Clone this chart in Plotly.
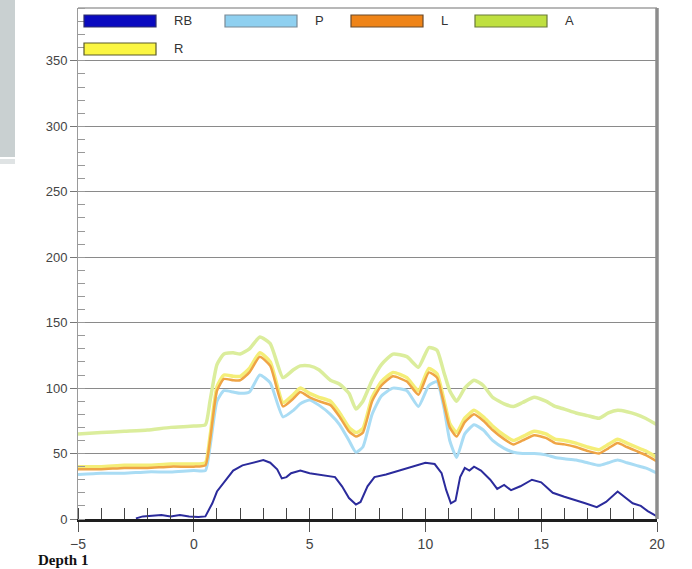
import plotly.graph_objects as go

# ---- data ----
rb_x = [-2.5, -2.2, -1.8, -1.4, -1.0, -0.6, -0.2, 0.2, 0.5, 0.8, 1.0, 1.4, 1.7, 2.1, 2.5, 3.0, 3.3, 3.6, 3.8, 4.0,
        4.2, 4.6, 5.0, 5.4, 5.8, 6.1, 6.4, 6.7, 7.0, 7.2, 7.5, 7.8, 8.3, 8.9, 9.4, 10.0, 10.4, 10.7, 10.9, 11.1,
        11.3, 11.5, 11.7, 11.9, 12.1, 12.4, 12.8, 13.1, 13.4, 13.7, 14.1, 14.6, 15.0, 15.5, 16.0, 16.4, 16.9, 17.4,
        17.8, 18.3, 18.6, 18.95, 19.3, 19.6, 20.0]
rb_y = [0.5, 2, 2.5, 3, 2, 3, 2, 1.5, 2, 12, 21, 30, 37, 41, 43, 45, 43, 38, 31, 32,
        35, 37, 35, 34, 33, 32, 25, 16, 11, 13, 25, 32, 34, 37, 40, 43, 42, 35, 22, 12,
        14, 32, 39, 37, 40, 37, 30, 23, 26, 22, 25, 30, 28, 20, 17, 15, 12, 9,
        13, 21, 17, 12, 10, 6, 2]

depth = [-5, -4, -3, -2, -1, 0, 0.5, 0.7, 1.0, 1.3, 1.7, 2.0, 2.4, 2.85, 3.3, 3.85, 4.3, 4.6, 5.0, 5.4,
         5.9, 6.3, 6.7, 7.0, 7.3, 7.7, 8.1, 8.6, 9.2, 9.7, 10.15, 10.5, 10.8, 11.05, 11.35, 11.7, 12.1, 12.5, 12.9, 13.4,
         13.8, 14.2, 14.7, 15.2, 15.6, 16.0, 16.5, 17.0, 17.5, 17.9, 18.3, 18.7, 19.1, 19.5, 20.0]
p_y = [34, 35, 35, 36, 36, 37, 37, 55, 90, 98, 97, 96, 97, 110, 104, 78, 83, 88, 91, 87,
       80, 72, 60, 51, 55, 80, 94, 100, 98, 86, 102, 105, 85, 60, 47, 65, 72, 68, 60, 54,
       51, 50, 50, 49, 47, 46, 45, 43, 41, 43, 45, 43, 41, 39, 35]
l_y = [38, 38, 39, 39, 40, 40, 41, 60, 98, 107, 106, 106, 112, 124, 117, 86, 92, 97, 93, 90,
       87, 78, 67, 63, 66, 90, 102, 109, 105, 95, 112, 108, 88, 70, 63, 74, 80, 75, 68, 61,
       57, 60, 64, 62, 58, 57, 55, 52, 50, 54, 58, 55, 52, 49, 44]
r_y = [40, 40, 41, 41, 42, 42, 43, 63, 101, 110, 109, 109, 115, 127, 120, 89, 95, 100, 96, 93,
       90, 81, 70, 66, 69, 93, 105, 112, 108, 98, 115, 111, 91, 73, 66, 77, 83, 78, 71, 64,
       60, 63, 67, 65, 61, 60, 58, 55, 53, 57, 61, 58, 55, 52, 47]
a_y = [65, 66, 67, 68, 70, 71, 72, 90, 118, 126, 127, 126, 130, 139, 134, 108, 114, 117, 117, 114,
       106, 103, 96, 84, 90, 106, 118, 126, 124, 116, 131, 129, 112, 98, 90, 100, 106, 102, 93, 88,
       86, 89, 93, 90, 86, 84, 81, 79, 77, 81, 83, 82, 80, 77, 72]

series_names = ["RB", "P", "L", "A", "R"]
x_ticks = [-5, 0, 5, 10, 15, 20]
y_ticks = [0, 50, 100, 150, 200, 250, 300, 350]

line_colors = {"RB": "#2b2b9c", "P": "#a9dcf4", "L": "#efa445", "A": "#dbed9c", "R": "#f4ee78"}
legend_fill = {"RB": "#0a0ac0", "P": "#8fd0f0", "L": "#ef8418", "A": "#bfe040", "R": "#fbf642"}
legend_edge = {"RB": "#30306a", "P": "#7a8a96", "L": "#6a4a2a", "A": "#6a7a3a", "R": "#5a5a2a"}

fig = go.Figure()
fig.add_trace(go.Scatter(x=depth, y=a_y, name="A", mode="lines", line=dict(color=line_colors["A"], width=3.5, shape="spline", smoothing=0.5), showlegend=False))
fig.add_trace(go.Scatter(x=depth, y=p_y, name="P", mode="lines", line=dict(color=line_colors["P"], width=3, shape="spline", smoothing=0.5), showlegend=False))
fig.add_trace(go.Scatter(x=depth, y=r_y, name="R", mode="lines", line=dict(color=line_colors["R"], width=3.5, shape="spline", smoothing=0.5), showlegend=False))
fig.add_trace(go.Scatter(x=depth, y=l_y, name="L", mode="lines", line=dict(color=line_colors["L"], width=2.5, shape="spline", smoothing=0.5), showlegend=False))
fig.add_trace(go.Scatter(x=rb_x, y=rb_y, name="RB", mode="lines", line=dict(color=line_colors["RB"], width=2), showlegend=False))

W, H = 692, 569
L_M, R_M, T_M, B_M = 78, 35, 8, 50
pw, ph = W - L_M - R_M, H - T_M - B_M

def px(xp):
    return (xp - L_M) / pw

def py(yp):
    return (H - B_M - yp) / ph

shapes = []
annotations = []
# legend drawn as boxes
legend_pos = {"RB": (84, 15), "P": (225, 15), "L": (351, 15), "A": (475, 15), "R": (84, 43)}
for name in series_names:
    x0, y0 = legend_pos[name]
    shapes.append(dict(type="rect", xref="paper", yref="paper",
                       x0=px(x0), x1=px(x0 + 72), y0=py(y0 + 12), y1=py(y0),
                       fillcolor=legend_fill[name], line=dict(color=legend_edge[name], width=1.2)))
    annotations.append(dict(xref="paper", yref="paper", x=px(x0 + 88), y=py(y0 + 5),
                            xanchor="left", yanchor="middle", showarrow=False, text=name,
                            font=dict(family="Liberation Sans, Arial", size=13, color="#333")))
# top border and right shadow border
shapes.append(dict(type="line", xref="paper", yref="paper", x0=0, x1=1, y0=1, y1=1,
                   line=dict(color="#a0a0a0", width=1.5)))
shapes.append(dict(type="line", xref="paper", yref="paper", x0=1, x1=1, y0=0, y1=1,
                   line=dict(color="#8c8c8c", width=3.5)))
# decorative grey panel at top-left
shapes.append(dict(type="rect", xref="paper", yref="paper", x0=px(0), x1=px(15), y0=py(157), y1=py(0),
                   fillcolor="#c9d0d1", line=dict(width=0), layer="below"))
shapes.append(dict(type="rect", xref="paper", yref="paper", x0=px(0), x1=px(15), y0=py(164), y1=py(159),
                   fillcolor="#dfe3e4", line=dict(width=0), layer="below"))
# caption at the bottom
annotations.append(dict(xref="paper", yref="paper", x=px(36), y=py(550), xanchor="left", yanchor="top",
                        showarrow=False, text="<b>Depth 1</b>",
                        font=dict(family="Liberation Serif, Times New Roman", size=15, color="#111")))

fig.update_layout(
    width=W, height=H,
    margin=dict(l=L_M, r=R_M, t=T_M, b=B_M),
    paper_bgcolor="white", plot_bgcolor="white",
    showlegend=False,
    shapes=shapes, annotations=annotations,
    font=dict(family="Liberation Sans, Arial", color="#444"),
)
fig.update_xaxes(range=[-5, 20], tickvals=x_ticks, showgrid=False, zeroline=False,
                 showline=True, linecolor="#1e1e1e", linewidth=2.5,
                 ticks="outside", ticklen=10, tickcolor="#555", tickwidth=1,
                 minor=dict(ticks="inside", dtick=1, tick0=0, ticklen=11, tickcolor="#444", tickwidth=1),
                 tickfont=dict(size=14, color="#444"))
fig.update_yaxes(range=[0, 390.4], tickvals=y_ticks, showgrid=True, gridcolor="#8a8a8a", gridwidth=1,
                 zeroline=False, showline=True, linecolor="#9a9a9a", linewidth=1,
                 ticks="outside", ticklen=7, tickcolor="#777",
                 minor=dict(ticks="inside", dtick=10, tick0=0, ticklen=7, tickcolor="#999", showgrid=False),
                 tickfont=dict(size=13, color="#444"))

fig.write_html("out.html", config={"displayModeBar": False},
               post_script="document.body.style.margin='0';document.body.style.overflow='hidden';")
